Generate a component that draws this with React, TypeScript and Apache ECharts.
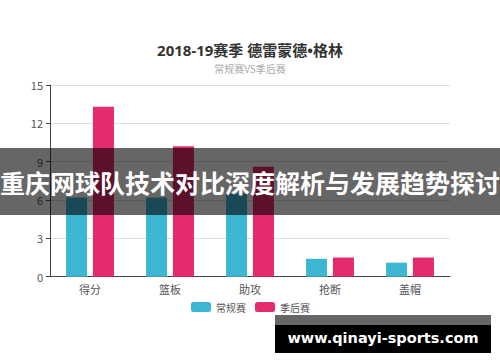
import React, { useEffect, useRef } from "react";
import * as echarts from "echarts";

const categories = ["得分", "篮板", "助攻", "抢断", "盖帽"];
const regularSeason = [6.2, 6.2, 6.5, 1.4, 1.1];
const playoffs = [13.3, 10.2, 8.6, 1.5, 1.5];
const yTicks = { min: 0, max: 15, interval: 3 };
const seriesNames = ["常规赛", "季后赛"];
const titleText = "2018-19赛季 德雷蒙德•格林";
const subtitleText = "常规赛VS季后赛";
const bannerText = "重庆网球队技术对比深度解析与发展趋势探讨";
const watermarkText = "www.qinayi-sports.com";

const FONT = "'Noto Sans CJK SC', 'Noto Sans', sans-serif";
const TITLE_FONT = "'Noto Sans', 'Noto Sans CJK SC', sans-serif";

export default function App() {
  const ref = useRef<HTMLDivElement>(null);
  useEffect(() => {
    document.body.style.margin = "0";
    if (!ref.current) return;
    const chart = echarts.init(ref.current, undefined, { renderer: "svg" });
    chart.setOption({
      animation: false,
      backgroundColor: "#fff",
      textStyle: { fontFamily: FONT },
      title: {
        text: titleText,
        subtext: subtitleText,
        left: "center",
        top: 37,
        itemGap: 6,
        textStyle: { fontSize: 15, fontWeight: "bold", color: "#333", fontFamily: TITLE_FONT },
        subtextStyle: { fontSize: 10, color: "#aaa", fontFamily: FONT },
      },
      legend: {
        data: seriesNames,
        left: 191,
        top: 302,
        padding: [0, 0, 0, 0],
        itemWidth: 20,
        itemHeight: 10,
        itemGap: 9,
        icon: "roundRect",
        textStyle: { fontSize: 10, color: "#555", fontFamily: FONT },
      },
      grid: { left: 50, right: 50, top: 85, bottom: 85.3, containLabel: false },
      xAxis: {
        type: "category",
        data: categories,
        axisLine: { lineStyle: { color: "#444" } },
        axisTick: { length: 4, lineStyle: { color: "#444" } },
        axisLabel: { fontSize: 11, color: "#555", margin: 7 },
      },
      yAxis: {
        type: "value",
        min: yTicks.min,
        max: yTicks.max,
        interval: yTicks.interval,
        axisLine: { show: true, lineStyle: { color: "#444" } },
        axisTick: { show: true, length: 4, lineStyle: { color: "#444" } },
        axisLabel: { fontSize: 11, color: "#555", margin: 7 },
        splitLine: { lineStyle: { color: "#ddd" } },
      },
      series: [
        {
          name: seriesNames[0],
          type: "bar",
          data: regularSeason,
          barWidth: 21,
          barGap: "28%",
          itemStyle: { color: "#3db6d3" },
        },
        {
          name: seriesNames[1],
          type: "bar",
          data: playoffs,
          barWidth: 21,
          itemStyle: { color: "#e62a6e" },
        },
      ],
      graphic: [
        {
          type: "rect",
          shape: { x: 0, y: 148, width: 500, height: 67 },
          style: { fill: "rgba(0,0,0,0.6)" },
          z: 100,
        },
        {
          type: "text",
          x: 250,
          y: 181.5,
          style: {
            text: bannerText,
            fill: "#fff",
            fontSize: 25,
            fontWeight: "bold",
            fontFamily: FONT,
            align: "center",
            verticalAlign: "middle",
          },
          z: 101,
        },
        {
          type: "rect",
          shape: { x: 275, y: 315, width: 216, height: 10 },
          style: { fill: "#666" },
          z: 100,
        },
        {
          type: "rect",
          shape: { x: 275, y: 325, width: 216, height: 28 },
          style: { fill: "#000" },
          z: 100,
        },
        {
          type: "text",
          x: 383,
          y: 338,
          style: {
            text: watermarkText,
            fill: "#fff",
            fontSize: 14.5,
            fontWeight: "bold",
            fontFamily: "'DejaVu Sans', sans-serif",
            align: "center",
            verticalAlign: "middle",
          },
          z: 101,
        },
      ],
    });
    return () => chart.dispose();
  }, []);
  return (
    <div
      ref={ref}
      style={{ width: 500, height: 362, position: "fixed", left: 0, top: 0 }}
    />
  );
}
